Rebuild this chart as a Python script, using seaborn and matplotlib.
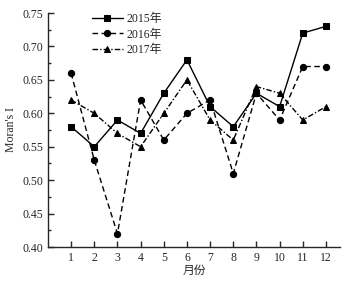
import matplotlib
matplotlib.use("Agg")
import matplotlib.pyplot as plt
import seaborn as sns
import pandas as pd
from matplotlib.ticker import MultipleLocator

months = [1, 2, 3, 4, 5, 6, 7, 8, 9, 10, 11, 12]
y2015 = [0.58, 0.55, 0.59, 0.57, 0.63, 0.68, 0.61, 0.58, 0.63, 0.61, 0.72, 0.73]
y2016 = [0.66, 0.53, 0.42, 0.62, 0.56, 0.60, 0.62, 0.51, 0.63, 0.59, 0.67, 0.67]
y2017 = [0.62, 0.60, 0.57, 0.55, 0.60, 0.65, 0.59, 0.56, 0.64, 0.63, 0.59, 0.61]
series_names = ["2015年", "2016年", "2017年"]

sns.set_style("ticks")
plt.rcParams['font.family'] = ['Liberation Serif', 'Noto Sans CJK SC']

fig = plt.figure(figsize=(3.5, 2.83), dpi=100)
ax = fig.add_axes([0.137, 0.127, 0.834, 0.827])

styles = [((None, None), "s"), ((4, 2.5), "o"), ((4, 1.5, 1, 1.5), "^")]
for name, vals, (ds, mk) in zip(series_names, [y2015, y2016, y2017], styles):
    df = pd.DataFrame({"month": months, "value": vals})
    kw = {} if ds[0] is None else {"dashes": ds}
    sns.lineplot(data=df, x="month", y="value", ax=ax, color="black",
                 marker=mk, markersize=4.5, linewidth=1.0,
                 markeredgecolor="black", label=name, **kw)

ax.set_xlim(0, 12.6)
ax.set_ylim(0.40, 0.75)
ax.set_xticks(months)
ax.yaxis.set_major_locator(MultipleLocator(0.05))
ax.yaxis.set_minor_locator(MultipleLocator(0.025))
ax.yaxis.set_major_formatter(matplotlib.ticker.FormatStrFormatter('%.2f'))
ax.tick_params(direction="in", labelsize=8.5, length=4, width=1)
ax.tick_params(which="minor", direction="in", length=2.5, width=1)
for s in ["top", "right"]:
    ax.spines[s].set_visible(False)
for s in ["left", "bottom"]:
    ax.spines[s].set_linewidth(1)
ax.set_xlabel("月份", fontsize=8.5, labelpad=1)
ax.set_ylabel("Moran's I", fontsize=8.5, labelpad=4)
leg = ax.legend(loc="upper left", bbox_to_anchor=(0.135, 1.02), frameon=False,
                fontsize=8.5, handlelength=2.6, handletextpad=0.35,
                labelspacing=0.3, borderaxespad=0)

fig.savefig("out.png", dpi=100)
